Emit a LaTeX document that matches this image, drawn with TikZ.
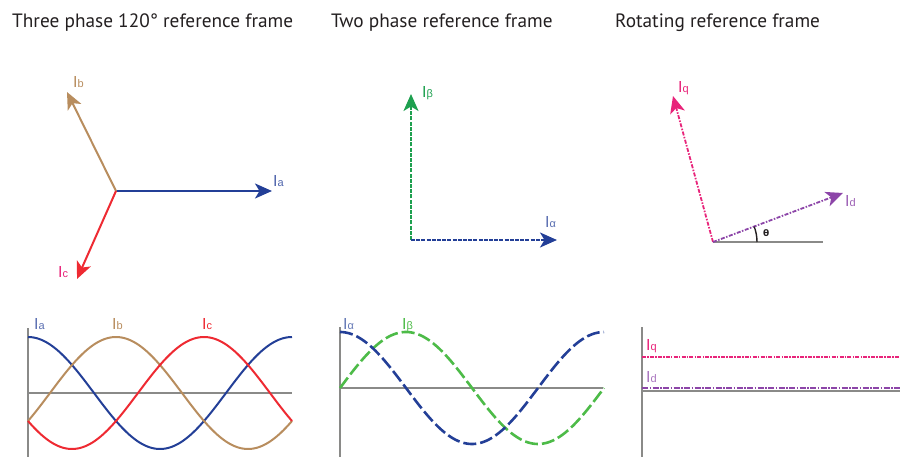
\documentclass[tikz,border=0pt]{standalone}
\usepackage{fontspec}
\setmainfont{PT Sans}
\newfontfamily\lblfont{Liberation Sans}
\newfontfamily\thfont{DejaVu Sans}
\usetikzlibrary{arrows.meta}
\definecolor{cblue}{HTML}{233F97}
\definecolor{ctan}{HTML}{B88D5E}
\definecolor{cred}{HTML}{EE2A32}
\definecolor{cgreen}{HTML}{1EA04F}
\definecolor{clgreen}{HTML}{4DBB48}
\definecolor{cpink}{HTML}{E8247A}
\definecolor{cpurple}{HTML}{8C45A8}
\definecolor{cgray}{HTML}{8A8A88}
\definecolor{ctext}{HTML}{231F20}
\newcommand{\lblI}[1]{{\lblfont\fontsize{16}{16}\selectfont I\fontsize{11}{11}\selectfont #1}}
\begin{document}
\begin{tikzpicture}[x=1pt,y=-1pt,
  title/.style={anchor=base west,inner sep=0pt,font=\fontsize{19.3}{19}\selectfont,text=ctext},
  lbl/.style={anchor=base west,inner sep=0pt},
  vec/.style={line width=2pt,-{Stealth[length=17pt,width=15pt,inset=4.5pt]}},
  axis/.style={cgray,line width=2pt},
  wave/.style={line width=2pt,smooth,samples=120},
  dwave/.style={line width=2.6pt,smooth,samples=120,dash pattern=on 13pt off 4pt},
  dashvec/.style={line width=1.8pt,dash pattern=on 4pt off 1.2pt,-{Stealth[length=17pt,width=15pt,inset=4.5pt]}},
  ddvec/.style={line width=1.8pt,dash pattern=on 4pt off 1.5pt on 1.5pt off 1.5pt,-{Stealth[length=17pt,width=15pt,inset=4.5pt]}}]
\useasboundingbox (0,0) rectangle (900,457);
% titles
\node[title] (t1) at (12,28) {Three phase 120° reference frame};
\node[title] (t2) at (331,28) {Two phase reference frame};
\node[title] (t3) at (615,28) {Rotating reference frame};
% three phase vectors
\coordinate (o1) at (116,191);
\coordinate (ta) at (272,191);
\coordinate (tb) at (67,92);
\coordinate (tc) at (77,279);
\draw[vec,cblue] (o1) -- (ta);
\draw[vec,ctan] (o1) -- (tb);
\draw[vec,cred] (o1) -- (tc);
\node[lbl,text=cblue!80!white] (la) at (273,187) {\lblI{a}};
\node[lbl,text=ctan] (lb) at (73,88) {\lblI{b}};
\node[lbl,text=cpink] (lc) at (58,277) {\lblI{c}};
% two phase vectors
\coordinate (o2) at (411,240);
\coordinate (tbeta) at (411,94);
\coordinate (talpha) at (557,240);
\draw[dashvec,cgreen] (o2) -- (tbeta);
\draw[dashvec,cblue] (o2) -- (talpha);
\node[lbl,text=cgreen] (lbeta) at (422,98) {\lblI{β}};
\node[lbl,text=cblue!75!white] (lalpha) at (545,228) {\lblI{α}};
% rotating vectors
\coordinate (o3) at (713,242);
\coordinate (g3) at (823,242);
\coordinate (tq) at (673,96);
\coordinate (td) at (843,193);
\draw[cgray,line width=2pt] (o3) -- (g3);
\draw[ddvec,cpink] (o3) -- (tq);
\draw[ddvec,cpurple] (o3) -- (td);
\draw[line width=1.4pt,ctext] ([shift={(0:44)}]o3) arc[start angle=0,end angle=-20.5,radius=44];
\node[lbl,text=ctext] (lth) at (763,237) {\thfont\bfseries\fontsize{9}{9}\selectfont θ};
\node[lbl,text=cpink] (lq) at (678,93) {\lblI{q}};
\node[lbl,text=cpurple!85!white] (ld) at (845,207) {\lblI{d}};
% graph 1
\coordinate (a1t) at (28,328); \coordinate (a1b) at (28,457);
\coordinate (h1l) at (28,393); \coordinate (h1r) at (292,393);
\draw[axis] (a1t) -- (a1b);
\draw[axis] (h1l) -- (h1r);
\draw[wave,cblue] plot[domain=28:292] (\x,{393-56*cos((\x-28)/264*360)});
\draw[wave,ctan] plot[domain=28:292] (\x,{393-56*cos((\x-28)/264*360-120)});
\draw[wave,cred] plot[domain=28:292] (\x,{393-56*cos((\x-28)/264*360+120)});
\node[lbl,text=cblue!75!white] (ga) at (34,330) {\lblI{a}};
\node[lbl,text=ctan] (gb) at (112,330) {\lblI{b}};
\node[lbl,text=cred] (gc) at (202,330) {\lblI{c}};
% graph 2
\coordinate (a2t) at (340,327); \coordinate (a2b) at (340,457);
\coordinate (h2l) at (340,388); \coordinate (h2r) at (603,388);
\draw[axis] (a2t) -- (a2b);
\draw[axis] (h2l) -- (h2r);
\draw[dwave,clgreen] plot[domain=340:604] (\x,{388-56*sin((\x-340)/264*360)});
\draw[dwave,cblue] plot[domain=340:604] (\x,{388-56*cos((\x-340)/264*360)});
\node[lbl,text=cblue!70!white] (galpha) at (343,330) {\lblI{α}};
\node[lbl,text=clgreen] (gbeta) at (402,330) {\lblI{β}};
% graph 3
\coordinate (a3t) at (642,327); \coordinate (a3b) at (642,457);
\coordinate (h3l) at (642,391); \coordinate (h3r) at (900,391);
\coordinate (q3l) at (642,357); \coordinate (q3r) at (900,357);
\coordinate (d3l) at (642,388); \coordinate (d3r) at (900,388);
\draw[axis] (a3t) -- (a3b);
\draw[axis] (h3l) -- (h3r);
\draw[cpink,line width=1.8pt,dash pattern=on 4pt off 1.2pt on 1.5pt off 1.2pt] (q3l) -- (q3r);
\draw[cpurple,line width=2.2pt,dash pattern=on 6pt off 1.5pt on 1.5pt off 1.5pt] (d3l) -- (d3r);
\node[lbl,text=cpink] (gq) at (646,350) {\lblI{q}};
\node[lbl,text=cpurple!75!white] (gd) at (646,382) {\lblI{d}};
\end{tikzpicture}
\end{document}
